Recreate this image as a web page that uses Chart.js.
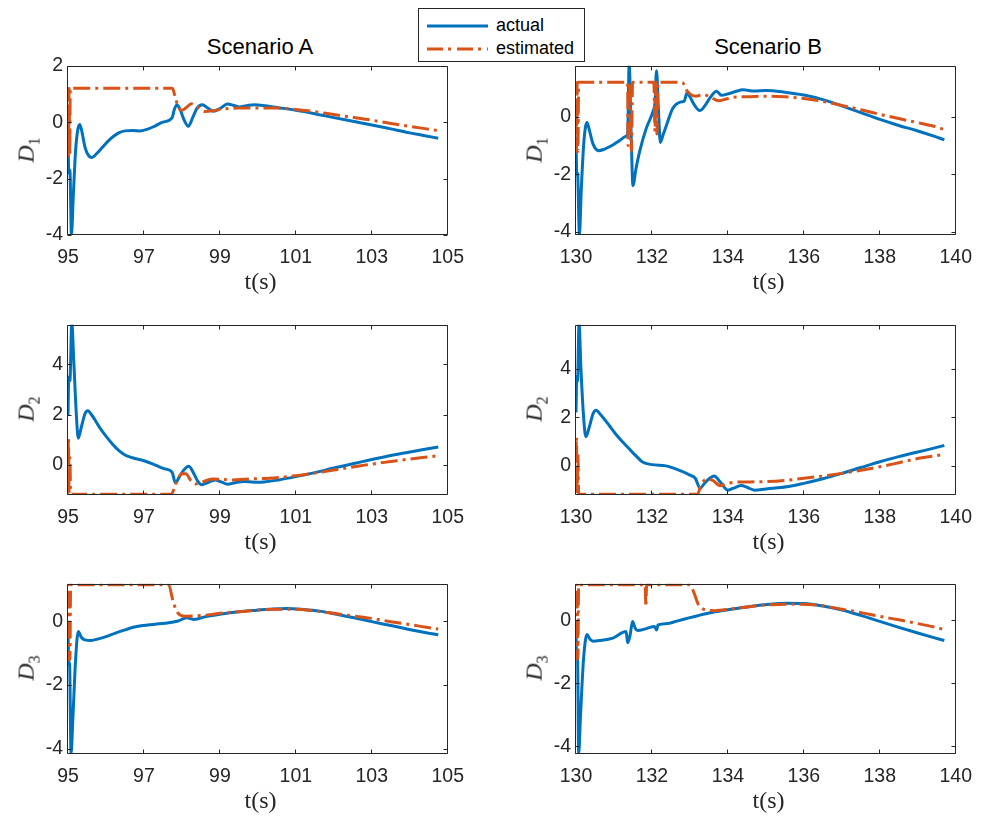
<!DOCTYPE html>
<html>
<head>
<meta charset="utf-8">
<script src="https://cdn.jsdelivr.net/npm/chart.js@4.4.0/dist/chart.umd.min.js"></script>
<style>
  html, body { margin: 0; padding: 0; background: #fff; overflow: hidden; }
  #fig { position: relative; width: 982px; height: 816px; }
  .panel { position: absolute; }
  .title { position: absolute; font: 22px "Liberation Sans", Arial, sans-serif; line-height: 22px; color: #000; transform: translateX(-50%); white-space: nowrap; }
  .xlab { position: absolute; font: 24px "Liberation Serif", "Times New Roman", serif; color: #262626; transform: translate(-50%, -50%); white-space: nowrap; }
  .ylab { position: absolute; font: italic 24px "Liberation Serif", "Times New Roman", serif; color: #262626; transform: translate(-50%, -50%) rotate(-90deg); white-space: nowrap; }
  .ylab sub { font-style: normal; font-size: 16px; }
  #legend { position: absolute; left: 418px; top: 8px; width: 165px; height: 52px; border: 1px solid #262626; background: #fff; z-index: 5; }
  #legend .row { position: absolute; left: 0; height: 20px; width: 165px; }
  #legend svg { position: absolute; left: 8px; top: 0; }
  #legend span { position: absolute; left: 77px; top: -1px; font: 18px "Liberation Sans", Arial, sans-serif; line-height: 20px; color: #000; }
</style>
</head>
<body>
<div id="fig">
  <div class="title" style="left:260px; top:36px;">Scenario A</div>
  <div class="title" style="left:768px; top:36px;">Scenario B</div>
  <div id="legend">
    <div class="row" style="top:7px;">
      <svg width="62" height="20"><line x1="0" y1="10" x2="61" y2="10" stroke="#0072BD" stroke-width="3"/></svg>
      <span>actual</span>
    </div>
    <div class="row" style="top:30px;">
      <svg width="62" height="20"><line x1="0" y1="10" x2="61" y2="10" stroke="#D95319" stroke-width="3" stroke-dasharray="16 5 3 6"/></svg>
      <span>estimated</span>
    </div>
  </div>
</div>
<script>
// Tick labels
var ticksA = [95, 97, 99, 101, 103, 105];
var ticksB = [130, 132, 134, 136, 138, 140];
var ticksD1A = [-4, -2, 0, 2];
var ticksD1B = [-4, -2, 0];
var ticksD2 = [0, 2, 4];
var ticksD3 = [-4, -2, 0];

// Scenario A, D1  [t, value]
var actA1 = [[95.00,-0.45],[95.02,-1.8],[95.05,-1.7],[95.09,-4.0],[95.14,-2.6],[95.2,-1.0],[95.26,-0.25],[95.31,-0.08],[95.36,-0.3],[95.45,-0.9],[95.55,-1.2],[95.63,-1.25],[95.75,-1.12],[95.9,-0.9],[96.05,-0.68],[96.2,-0.5],[96.35,-0.37],[96.5,-0.31],[96.7,-0.3],[96.9,-0.31],[97.1,-0.25],[97.3,-0.13],[97.5,0.0],[97.74,0.15],[97.8,0.45],[97.87,0.62],[97.95,0.45],[98.05,0.1],[98.17,-0.15],[98.28,0.15],[98.4,0.5],[98.54,0.62],[98.68,0.5],[98.83,0.39],[99.0,0.48],[99.2,0.64],[99.35,0.6],[99.5,0.54],[99.7,0.58],[99.9,0.62],[100.2,0.58],[100.5,0.52],[101.0,0.42],[101.5,0.3],[102.0,0.16],[102.5,0.03],[103.0,-0.1],[103.5,-0.24],[104.0,-0.38],[104.4,-0.48],[104.75,-0.57]];
var estA1 = [[95.0,0.0],[95.01,-1.2],[95.03,1.2],[95.045,-1.2],[95.06,1.2],[95.1,1.2],[97.75,1.2],[97.82,0.9],[97.9,0.55],[98.0,0.42],[98.1,0.5],[98.25,0.65],[98.4,0.55],[98.6,0.38],[98.8,0.4],[99.0,0.45],[99.5,0.5],[100.0,0.5],[100.5,0.5],[101.0,0.45],[101.5,0.37],[102.0,0.27],[102.5,0.17],[103.0,0.07],[103.5,-0.05],[104.0,-0.15],[104.4,-0.23],[104.75,-0.3]];

// Scenario B, D1
var actB1 = [[130.0,-0.7],[130.02,-2.0],[130.04,-1.95],[130.09,-4.1],[130.14,-2.5],[130.2,-1.0],[130.25,-0.35],[130.29,-0.2],[130.35,-0.45],[130.45,-0.95],[130.6,-1.18],[130.75,-1.12],[130.97,-0.98],[131.15,-0.82],[131.32,-0.67],[131.36,-0.58],[131.4,1.85],[131.45,-0.5],[131.5,-2.39],[131.58,-1.8],[131.68,-1.18],[131.85,-0.4],[132.03,0.2],[132.08,0.5],[132.12,1.6],[132.17,0.3],[132.22,-0.89],[132.3,-0.6],[132.38,-0.3],[132.55,0.3],[132.77,0.52],[132.85,0.55],[132.92,0.83],[133.0,0.7],[133.1,0.45],[133.26,0.22],[133.4,0.4],[133.55,0.7],[133.7,0.89],[133.83,0.75],[134.0,0.8],[134.2,0.88],[134.4,0.94],[134.7,0.9],[135.0,0.92],[135.5,0.86],[136.0,0.76],[136.5,0.6],[137.0,0.38],[137.5,0.15],[138.0,-0.09],[138.5,-0.3],[139.0,-0.49],[139.4,-0.66],[139.7,-0.8]];
var estB1 = [[130.0,0.0],[130.01,-1.2],[130.03,1.2],[130.05,-1.2],[130.07,1.2],[130.1,1.2],[131.36,1.2],[131.37,-1.0],[131.4,1.2],[131.46,-1.2],[131.49,1.2],[132.05,1.2],[132.08,-0.5],[132.11,1.2],[132.13,-0.6],[132.16,1.2],[132.8,1.2],[132.9,0.95],[133.0,0.8],[133.15,0.72],[133.35,0.78],[133.55,0.68],[133.75,0.56],[133.95,0.62],[134.1,0.68],[134.5,0.7],[135.0,0.72],[135.5,0.7],[136.0,0.64],[136.5,0.54],[137.0,0.4],[137.5,0.25],[138.0,0.09],[138.5,-0.06],[139.0,-0.2],[139.4,-0.32],[139.7,-0.44]];

// Scenario A, D2
var actA2 = [[95.0,1.96],[95.02,3.5],[95.05,3.35],[95.1,5.7],[95.15,4.2],[95.22,2.0],[95.27,1.07],[95.35,1.5],[95.45,2.05],[95.52,2.16],[95.62,2.0],[95.83,1.5],[96.0,1.15],[96.18,0.82],[96.35,0.56],[96.5,0.4],[96.7,0.29],[97.0,0.17],[97.3,0.0],[97.55,-0.15],[97.74,-0.28],[97.83,-0.71],[97.92,-0.5],[98.05,-0.2],[98.18,-0.05],[98.3,-0.3],[98.42,-0.65],[98.52,-0.78],[98.65,-0.72],[98.87,-0.59],[99.05,-0.68],[99.2,-0.76],[99.4,-0.7],[99.64,-0.65],[99.9,-0.68],[100.16,-0.67],[100.5,-0.6],[101.0,-0.46],[101.5,-0.3],[102.0,-0.12],[102.5,0.05],[103.0,0.22],[103.5,0.38],[104.0,0.52],[104.4,0.63],[104.75,0.72]];
var estA2 = [[95.0,0.3],[95.01,1.1],[95.03,-1.16],[95.05,0.3],[95.07,-1.16],[95.1,-1.16],[97.72,-1.16],[97.85,-0.7],[98.0,-0.35],[98.1,-0.35],[98.25,-0.65],[98.35,-0.75],[98.5,-0.7],[98.8,-0.55],[99.3,-0.59],[99.8,-0.55],[100.3,-0.52],[101.0,-0.42],[101.5,-0.32],[102.0,-0.2],[102.5,-0.08],[103.0,0.04],[103.5,0.14],[104.0,0.24],[104.4,0.31],[104.75,0.37]];

// Scenario B, D2
var actB2 = [[130.0,2.2],[130.02,3.68],[130.04,3.48],[130.08,5.9],[130.13,4.0],[130.2,2.0],[130.26,1.2],[130.35,1.6],[130.45,2.15],[130.53,2.29],[130.65,2.1],[130.88,1.65],[131.05,1.3],[131.23,0.98],[131.4,0.7],[131.49,0.55],[131.6,0.38],[131.75,0.16],[132.0,0.05],[132.37,0.0],[132.71,-0.18],[133.0,-0.38],[133.14,-0.51],[133.27,-0.92],[133.37,-0.75],[133.47,-0.58],[133.64,-0.42],[133.79,-0.65],[134.0,-1.0],[134.15,-0.92],[134.35,-0.81],[134.5,-0.88],[134.7,-1.0],[135.0,-0.95],[135.2,-0.92],[135.6,-0.85],[136.0,-0.72],[136.5,-0.53],[137.0,-0.31],[137.5,-0.07],[138.0,0.17],[138.5,0.38],[139.0,0.57],[139.4,0.72],[139.7,0.84]];
var estB2 = [[130.0,0.3],[130.01,1.18],[130.03,-1.17],[130.05,0.5],[130.07,-1.17],[130.1,-1.17],[133.2,-1.17],[133.3,-0.75],[133.45,-0.55],[133.6,-0.6],[133.8,-0.82],[134.0,-0.72],[134.3,-0.66],[134.6,-0.66],[135.0,-0.65],[135.5,-0.6],[136.0,-0.51],[136.5,-0.42],[137.0,-0.31],[137.5,-0.18],[138.0,-0.04],[138.5,0.13],[139.0,0.3],[139.4,0.4],[139.7,0.48]];

// Scenario A, D3
var actA3 = [[95.0,-0.32],[95.02,-1.35],[95.04,-1.3],[95.08,-4.16],[95.13,-3.0],[95.2,-1.2],[95.27,-0.32],[95.35,-0.5],[95.44,-0.58],[95.61,-0.6],[95.8,-0.55],[96.0,-0.48],[96.25,-0.37],[96.5,-0.27],[96.75,-0.18],[97.0,-0.13],[97.3,-0.09],[97.56,-0.06],[97.9,0.01],[98.12,0.11],[98.33,0.06],[98.6,0.14],[99.0,0.22],[99.5,0.3],[99.97,0.35],[100.4,0.39],[100.76,0.4],[101.2,0.37],[101.62,0.32],[102.0,0.24],[102.5,0.12],[103.0,-0.01],[103.5,-0.13],[104.05,-0.27],[104.4,-0.35],[104.75,-0.42]];
var estA3 = [[95.0,0.0],[95.01,-1.2],[95.03,1.15],[95.05,-1.2],[95.07,1.15],[95.1,1.15],[97.65,1.15],[97.77,0.61],[97.9,0.25],[98.08,0.16],[98.5,0.18],[99.0,0.25],[99.5,0.3],[99.97,0.35],[100.5,0.38],[101.0,0.38],[101.5,0.33],[102.0,0.25],[102.5,0.17],[103.0,0.09],[103.5,-0.01],[104.05,-0.11],[104.4,-0.18],[104.75,-0.24]];

// Scenario B, D3
var actB3 = [[130.0,-0.45],[130.02,-1.24],[130.04,-1.2],[130.07,-4.25],[130.12,-3.0],[130.2,-1.2],[130.29,-0.45],[130.37,-0.6],[130.45,-0.66],[130.62,-0.64],[130.97,-0.56],[131.32,-0.35],[131.36,-0.71],[131.42,-0.5],[131.49,-0.03],[131.56,-0.25],[131.62,-0.32],[131.85,-0.26],[132.07,-0.19],[132.12,-0.3],[132.16,-0.14],[132.4,-0.1],[132.63,-0.03],[133.0,0.09],[133.23,0.16],[133.6,0.26],[134.0,0.34],[134.5,0.43],[134.96,0.5],[135.56,0.55],[136.0,0.54],[136.5,0.46],[136.98,0.34],[137.5,0.16],[138.0,-0.03],[138.5,-0.22],[139.0,-0.4],[139.4,-0.54],[139.7,-0.64]];
var estB3 = [[130.0,0.0],[130.01,-1.24],[130.03,1.14],[130.05,-1.2],[130.07,1.14],[130.1,1.14],[131.82,1.14],[131.84,0.44],[131.86,1.14],[133.0,1.14],[133.1,0.9],[133.23,0.49],[133.4,0.34],[133.66,0.31],[134.09,0.37],[134.5,0.43],[134.96,0.49],[135.65,0.52],[136.35,0.49],[137.0,0.36],[137.5,0.25],[138.0,0.13],[138.5,0.02],[139.0,-0.1],[139.4,-0.2],[139.7,-0.29]];

var tickFont = { family: '"Liberation Sans", Arial, sans-serif', size: 19.5 };
var axisColor = '#262626';

// Box round the plot area with inward ticks on all four sides (MATLAB look)
var boxPlugin = {
    id: 'matlabBox',
    afterDatasetsDraw: function(chart) {
        var a = chart.chartArea, ctx = chart.ctx;
        var xs = chart.scales.x, ys = chart.scales.y;
        var L = Math.round(a.left) - 0.5, R = Math.round(a.right) - 0.5;
        var T = Math.round(a.top) + 0.5, B = Math.round(a.bottom) - 0.5;
        ctx.save();
        ctx.strokeStyle = axisColor;
        ctx.lineWidth = 1;
        ctx.beginPath();
        ctx.rect(L, T, R - L, B - T);
        xs.ticks.forEach(function(t) {
            var px = Math.round(xs.getPixelForValue(t.value)) - 0.5;
            ctx.moveTo(px, B); ctx.lineTo(px, B - 4);
            ctx.moveTo(px, T); ctx.lineTo(px, T + 4);
        });
        ys.ticks.forEach(function(t) {
            var py = Math.round(ys.getPixelForValue(t.value)) + 0.5;
            ctx.moveTo(L, py); ctx.lineTo(L + 4, py);
            ctx.moveTo(R, py); ctx.lineTo(R - 4, py);
        });
        ctx.stroke();
        ctx.restore();
    }
};

function pts(arr) {
    return arr.map(function(d) { return { x: d[0], y: d[1] }; });
}

var panels = [
    { left: 68,  top: 64,  h: 171, xr: [95, 105],  xt: ticksA, yr: [-4, 2],       yt: ticksD1A, act: actA1, est: estA1, lab: '1' },
    { left: 576, top: 64,  h: 171, xr: [130, 140], xt: ticksB, yr: [-4.11, 1.78], yt: ticksD1B, act: actB1, est: estB1, lab: '1' },
    { left: 68,  top: 323, h: 172, xr: [95, 105],  xt: ticksA, yr: [-1.19, 5.58], yt: ticksD2,  act: actA2, est: estA2, lab: '2' },
    { left: 576, top: 323, h: 172, xr: [130, 140], xt: ticksB, yr: [-1.2, 5.81],  yt: ticksD2,  act: actB2, est: estB2, lab: '2' },
    { left: 68,  top: 582, h: 172, xr: [95, 105],  xt: ticksA, yr: [-4.16, 1.18], yt: ticksD3,  act: actA3, est: estA3, lab: '3' },
    { left: 576, top: 582, h: 172, xr: [130, 140], xt: ticksB, yr: [-4.25, 1.17], yt: ticksD3,  act: actB3, est: estB3, lab: '3' }
];

var fig = document.getElementById('fig');

panels.forEach(function(p) {
    var padTop = 15, padRight = 22, yW = 68, xH = 40, plotW = 385;
    var wrap = document.createElement('div');
    wrap.className = 'panel';
    wrap.style.left = (p.left - yW) + 'px';
    wrap.style.top = (p.top - padTop) + 'px';
    wrap.style.width = (yW + plotW + padRight) + 'px';
    wrap.style.height = (padTop + p.h + xH) + 'px';
    var cv = document.createElement('canvas');
    wrap.appendChild(cv);
    fig.appendChild(wrap);

    new Chart(cv, {
        type: 'line',
        data: {
            datasets: [{
                label: 'estimated',
                data: pts(p.est),
                borderColor: '#D95319',
                borderWidth: 3,
                borderDash: [17, 5, 3, 5],
                borderCapStyle: 'butt',
                pointRadius: 0,
                cubicInterpolationMode: 'monotone'
            }, {
                label: 'actual',
                data: pts(p.act),
                borderColor: '#0072BD',
                borderWidth: 3,
                pointRadius: 0,
                cubicInterpolationMode: 'monotone',
                clip: 0
            }]
        },
        options: {
            responsive: true,
            maintainAspectRatio: false,
            animation: false,
            events: [],
            layout: { padding: { top: padTop, right: padRight, left: 0, bottom: 0 } },
            plugins: { legend: { display: false }, tooltip: { enabled: false } },
            scales: {
                x: {
                    type: 'linear',
                    min: p.xr[0],
                    max: p.xr[1],
                    grid: { display: false, drawTicks: false },
                    border: { display: false },
                    ticks: {
                        font: tickFont, color: axisColor, padding: 11,
                        maxRotation: 0, autoSkip: false,
                        callback: function(v) { return String(v); }
                    },
                    afterBuildTicks: function(s) { s.ticks = p.xt.map(function(v) { return { value: v }; }); },
                    afterFit: function(s) { s.height = xH; }
                },
                y: {
                    min: p.yr[0],
                    max: p.yr[1],
                    grid: { display: false, drawTicks: false },
                    border: { display: false },
                    ticks: {
                        font: tickFont, color: axisColor, padding: 5,
                        callback: function(v) { return String(v); }
                    },
                    afterBuildTicks: function(s) { s.ticks = p.yt.map(function(v) { return { value: v }; }); },
                    afterFit: function(s) { s.width = yW; }
                }
            }
        },
        plugins: [boxPlugin]
    });

    // axis labels
    var xl = document.createElement('div');
    xl.className = 'xlab';
    xl.style.left = (p.left + plotW / 2) + 'px';
    xl.style.top = (p.top + p.h + 46) + 'px';
    xl.textContent = 't(s)';
    fig.appendChild(xl);

    var yl = document.createElement('div');
    yl.className = 'ylab';
    yl.style.left = (p.left - 40) + 'px';
    yl.style.top = (p.top + p.h / 2) + 'px';
    yl.innerHTML = 'D<sub>' + p.lab + '</sub>';
    fig.appendChild(yl);
});
</script>
</body>
</html>
